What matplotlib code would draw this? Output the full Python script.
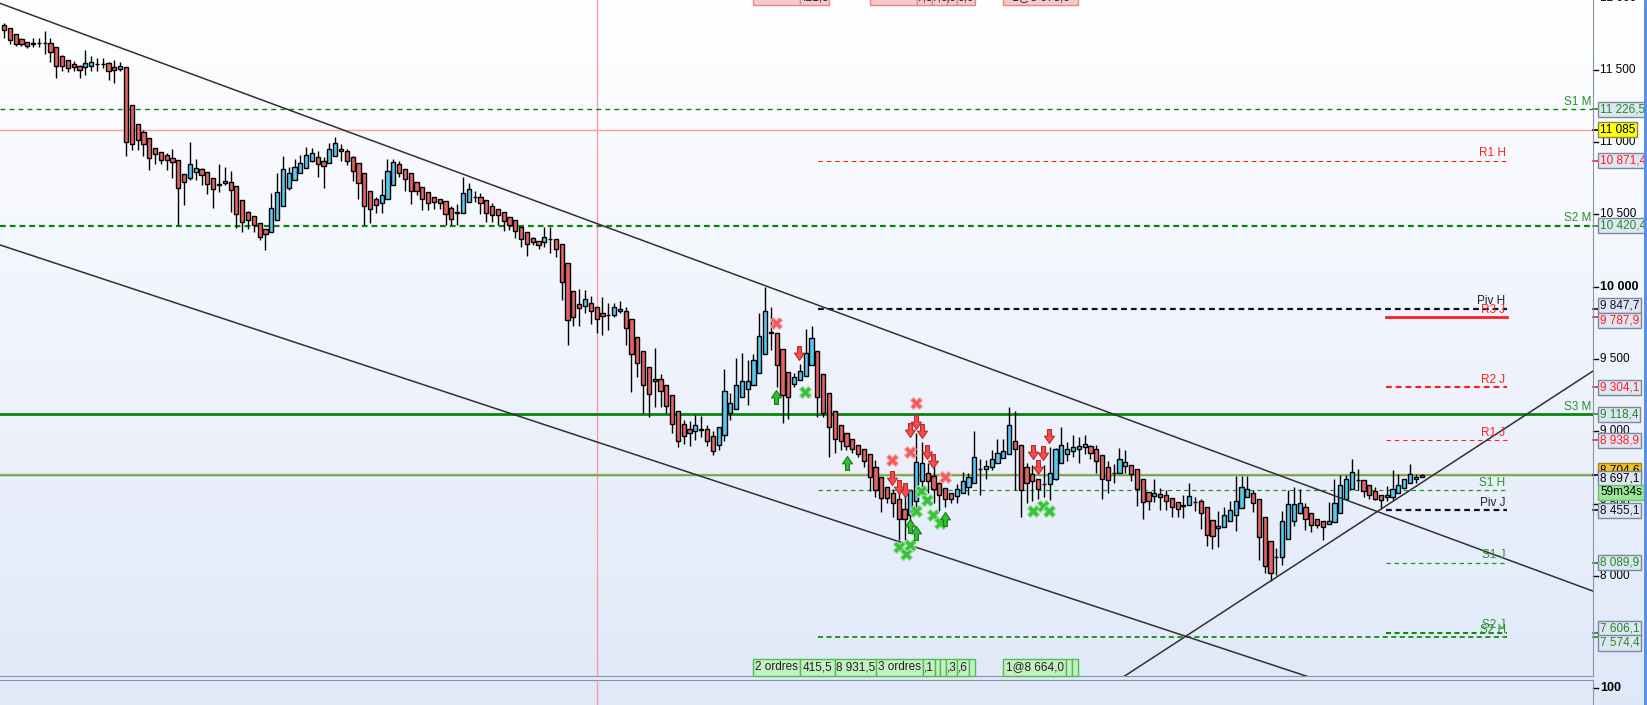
import numpy as np
import matplotlib
matplotlib.use('Agg')
import matplotlib.pyplot as plt
import matplotlib.transforms as mtransforms
from matplotlib.patches import Rectangle
from matplotlib.path import Path

plt.rcParams['font.family'] = ['Liberation Sans', 'DejaVu Sans']

W, H = 1647, 705

# ---- candles (hourly bars) ----
opens = [11810, 11790, 11748, 11714, 11692, 11685, 11683, 11685, 11685, 11657,
         11595, 11568, 11540, 11527, 11520, 11527, 11540, 11542, 11547, 11520,
         11506, 11520, 11257, 11125, 11070, 11029, 10960, 10932, 10911, 10890,
         10876, 10779, 10752, 10793, 10814, 10793, 10752, 10710, 10717, 10724,
         10697, 10600, 10517, 10489, 10441, 10399, 10378, 10461, 10558, 10683,
         10738, 10786, 10821, 10869, 10897, 10869, 10856, 10904, 10953, 10939,
         10897, 10856, 10786, 10662, 10607, 10579, 10607, 10703, 10849, 10814,
         10786, 10724, 10690, 10655, 10621, 10607, 10593, 10545, 10510, 10510,
         10586, 10621, 10621, 10600, 10558, 10538, 10517, 10482, 10461, 10413,
         10378, 10337, 10316, 10309, 10330, 10330, 10295, 10164, 9970, 9880,
         9866, 9887, 9860, 9818, 9805, 9805, 9832, 9832, 9777, 9652,
         9555, 9445, 9348, 9362, 9320, 9251, 9140, 9050, 9016, 9002,
         9016, 9016, 8968, 8905, 8975, 9127, 9154, 9237, 9293, 9320,
         9403, 9535, 9680, 9680, 9569, 9410, 9327, 9355, 9383, 9459,
         9555, 9396, 9265, 9140, 9043, 8988, 8947, 8905, 8878, 8843,
         8753, 8684, 8615, 8573, 8532, 8463, 8421, 8518, 8656, 8711,
         8691, 8642, 8608, 8573, 8553, 8573, 8615, 8642, 8739, 8739,
         8753, 8781, 8816, 8843, 8933, 8905, 8753, 8705, 8670, 8633,
         8635, 8670, 8781, 8843, 8864, 8878, 8892, 8899, 8878, 8836,
         8753, 8711, 8711, 8760, 8767, 8739, 8670, 8580, 8553, 8566,
         8560, 8539, 8511, 8491, 8491, 8511, 8518, 8477, 8387, 8331,
         8338, 8380, 8421, 8470, 8546, 8573, 8532, 8407, 8241, 8131,
         8131, 8255, 8380, 8435, 8477, 8435, 8394, 8380, 8359, 8373,
         8435, 8532, 8601, 8663, 8663, 8629, 8587, 8560, 8546, 8546,
         8573, 8608, 8642, 8670, 8684]
highs = [11824, 11790, 11748, 11721, 11692, 11721, 11721, 11769, 11721, 11657,
         11602, 11568, 11561, 11533, 11637, 11595, 11582, 11582, 11554, 11568,
         11554, 11520, 11257, 11125, 11084, 11029, 10960, 10932, 10925, 10953,
         10876, 10779, 11001, 10883, 10821, 10793, 10752, 10849, 10828, 10800,
         10697, 10600, 10524, 10489, 10441, 10399, 10648, 10786, 10904, 10828,
         10883, 10911, 10966, 10960, 10939, 10897, 10994, 11036, 10987, 10953,
         10904, 10856, 10786, 10662, 10621, 10745, 10883, 10883, 10869, 10814,
         10786, 10724, 10690, 10655, 10621, 10607, 10593, 10558, 10572, 10759,
         10717, 10662, 10648, 10600, 10579, 10538, 10517, 10482, 10461, 10413,
         10378, 10344, 10316, 10413, 10413, 10330, 10295, 10164, 9970, 9984,
         9977, 9936, 9860, 9929, 9887, 9887, 9901, 9860, 9777, 9652,
         9555, 9445, 9576, 9396, 9320, 9251, 9140, 9078, 9071, 9113,
         9106, 9043, 9002, 9030, 9431, 9265, 9507, 9542, 9493, 9535,
         9818, 9998, 9860, 9680, 9569, 9410, 9403, 9466, 9708, 9729,
         9555, 9396, 9265, 9140, 9043, 8988, 8947, 8905, 8878, 8843,
         8802, 8684, 8615, 8601, 8601, 8615, 8594, 8988, 8926, 8781,
         8781, 8649, 8608, 8573, 8635, 8718, 8711, 9002, 8809, 8802,
         8871, 8947, 8947, 9168, 9140, 8905, 8781, 8767, 8670, 8767,
         8892, 8885, 9030, 8926, 8975, 8961, 8975, 8905, 8905, 8836,
         8795, 8774, 8885, 8871, 8767, 8739, 8670, 8580, 8670, 8608,
         8594, 8539, 8511, 8560, 8642, 8546, 8532, 8477, 8387, 8449,
         8477, 8518, 8691, 8691, 8691, 8594, 8532, 8407, 8241, 8193,
         8449, 8594, 8615, 8601, 8504, 8435, 8394, 8380, 8511, 8670,
         8698, 8698, 8809, 8739, 8663, 8629, 8615, 8560, 8622, 8732,
         8705, 8670, 8774, 8705, 8704]
lows = [11720, 11678, 11664, 11664, 11650, 11657, 11657, 11609, 11554, 11443,
        11492, 11485, 11492, 11443, 11464, 11492, 11492, 11513, 11430, 11409,
        11492, 10904, 10946, 10946, 10904, 10807, 10849, 10849, 10807, 10752,
        10427, 10565, 10738, 10738, 10703, 10641, 10545, 10655, 10703, 10517,
        10406, 10378, 10399, 10378, 10323, 10254, 10378, 10461, 10558, 10669,
        10738, 10786, 10821, 10862, 10759, 10683, 10856, 10904, 10869, 10842,
        10731, 10607, 10427, 10441, 10510, 10510, 10607, 10703, 10759, 10662,
        10572, 10635, 10531, 10531, 10538, 10538, 10427, 10427, 10427, 10510,
        10586, 10586, 10503, 10447, 10447, 10427, 10385, 10392, 10337, 10275,
        10213, 10288, 10261, 10275, 10233, 10206, 9908, 9597, 9729, 9729,
        9818, 9742, 9680, 9666, 9701, 9791, 9818, 9597, 9272, 9376,
        9127, 9099, 9168, 9168, 9127, 8988, 8892, 8912, 8899, 8940,
        8961, 8899, 8836, 8871, 8933, 9078, 9154, 9237, 9182, 9320,
        9403, 9535, 9562, 9307, 9057, 9085, 9307, 9355, 9383, 9459,
        9099, 9099, 8823, 8850, 8871, 8871, 8850, 8823, 8753, 8587,
        8546, 8442, 8504, 8407, 8248, 8248, 8366, 8456, 8594, 8573,
        8504, 8449, 8477, 8504, 8504, 8573, 8560, 8642, 8560, 8670,
        8732, 8781, 8816, 8843, 8594, 8407, 8504, 8518, 8532, 8546,
        8525, 8663, 8781, 8795, 8823, 8781, 8843, 8809, 8711, 8532,
        8573, 8642, 8711, 8711, 8656, 8484, 8394, 8456, 8511, 8456,
        8456, 8407, 8407, 8400, 8491, 8449, 8325, 8207, 8186, 8200,
        8338, 8380, 8311, 8470, 8546, 8442, 8110, 8020, 7965, 8007,
        8076, 8255, 8345, 8428, 8318, 8304, 8331, 8248, 8359, 8373,
        8435, 8532, 8601, 8594, 8546, 8532, 8525, 8463, 8518, 8525,
        8573, 8608, 8642, 8642, 8684]
closes = [11776, 11706, 11678, 11678, 11664, 11680, 11685, 11683, 11623, 11527,
          11527, 11513, 11520, 11499, 11547, 11554, 11542, 11540, 11492, 11499,
          11527, 11001, 10987, 11015, 10987, 10890, 10918, 10876, 10876, 10862,
          10683, 10724, 10849, 10821, 10773, 10710, 10676, 10707, 10731, 10669,
          10503, 10447, 10461, 10427, 10344, 10364, 10545, 10655, 10814, 10786,
          10828, 10856, 10911, 10925, 10849, 10835, 10953, 10994, 10939, 10869,
          10800, 10717, 10558, 10538, 10565, 10635, 10800, 10862, 10786, 10745,
          10662, 10662, 10607, 10579, 10586, 10579, 10503, 10468, 10514, 10648,
          10676, 10618, 10579, 10510, 10496, 10496, 10454, 10427, 10385, 10330,
          10295, 10309, 10288, 10344, 10328, 10261, 10033, 9770, 9791, 9853,
          9915, 9832, 9777, 9798, 9803, 9860, 9846, 9715, 9535, 9472,
          9320, 9258, 9362, 9279, 9175, 9050, 8933, 8968, 8988, 9043,
          9012, 8933, 8864, 9030, 9279, 9196, 9320, 9348, 9348, 9493,
          9659, 9832, 9685, 9459, 9251, 9237, 9376, 9417, 9542, 9645,
          9237, 9127, 9030, 8947, 8933, 8899, 8878, 8843, 8795, 8684,
          8594, 8539, 8539, 8504, 8394, 8394, 8594, 8788, 8781, 8656,
          8601, 8560, 8532, 8532, 8601, 8656, 8684, 8823, 8742, 8760,
          8809, 8850, 8864, 9043, 8878, 8594, 8642, 8656, 8601, 8637,
          8711, 8878, 8905, 8878, 8892, 8899, 8912, 8850, 8795, 8670,
          8663, 8715, 8809, 8788, 8705, 8601, 8511, 8518, 8573, 8546,
          8518, 8477, 8463, 8487, 8553, 8508, 8435, 8283, 8276, 8345,
          8421, 8456, 8518, 8615, 8601, 8504, 8269, 8069, 8020, 8134,
          8380, 8497, 8497, 8504, 8394, 8352, 8352, 8338, 8380, 8504,
          8629, 8670, 8718, 8666, 8587, 8560, 8532, 8525, 8560, 8601,
          8629, 8670, 8705, 8684, 8697]

# ---- trend lines: (bar index, price) anchor pairs ----
upper_line = ([-0.69, 273.5], [11960, 7895])
lower_line = ([-0.69, 273.5], [10289, 6653])
rising_line = ([192.9, 273.5], [7308, 9417])

# ---- pivot levels ----
level_names = ['S1 M', 'R1 H', 'S2 M', 'Piv H', 'R3 J', 'R2 J', 'S3 M',
               'R1 J', 'S1 H', 'Piv J', 'S1 J', 'S2 J', 'S2 H']
level_values = [11226.5, 10871.4, 10420.4, 9847.7, 9787.9, 9304.1, 9118.4,
                8938.9, 8592.0, 8455.1, 8089.9, 7606.1, 7574.4]
level_tags = ['11 226,5', '10 871,4', '10 420,4', '9 847,7', '9 787,9', '9 304,1',
              '9 118,4', '8 938,9', None, '8 455,1', '8 089,9', '7 606,1', '7 574,4']

last_price = 8697.1
ask_price = 8704.6
ref_price = 11085
ref_bar = 102

axis_ticks = [11500, 11000, 10500, 10000, 9500, 9000, 8500, 8000]

# ---- signal markers ----
red_x_idx = [132.9, 152.8, 157.0, 155.9, 162.0]
red_x_val = [9749, 8802, 9196, 8857, 8684]
red_dn_idx = [136.8, 157.0, 155.9, 158.0, 158.9, 159.9, 152.8, 154.0, 155.1,
              179.9, 177.1, 178.8, 178.0]
red_dn_val = [9542, 9064, 9009, 9002, 8857, 8795, 8677, 8615, 8594,
              8968, 8857, 8850, 8753]
green_x_idx = [137.9, 157.8, 158.9, 157.0, 159.9, 161.1, 177.1, 178.8, 179.9,
               154.0, 155.3, 155.9]
green_x_val = [9272, 8587, 8525, 8449, 8421, 8366, 8449, 8484, 8449,
               8200, 8152, 8214]
green_up_idx = [132.9, 145.1, 162.0, 155.9, 157.0]
green_up_val = [9237, 8781, 8394, 8345, 8297]

# order tags (top ones are cut by the frame)
top_tags = [(753, 800, '2 ordres'), (800, 829, '421,5'),
            (870, 917, '2 ordres'), (917, 932, '7,5'), (932, 947, '7,0'),
            (947, 957, ',0'), (957, 975, '0,0'), (1003, 1078, '1@8 673,0')]
bottom_tags = [(753, 800, '2 ordres'), (800, 835, '415,5'), (835, 876, '8 931,5'),
               (876, 923, '3 ordres'), (923, 935, ',1'), (935, 940, ''),
               (940, 946, ''), (946, 957, ',3'), (957, 969, ',6'), (969, 975, ''),
               (1003, 1066, '1@8 664,0'), (1066, 1072, ''), (1072, 1078, '')]

# ================= drawing =================
fig = plt.figure(figsize=(W / 100, H / 100), dpi=100)

bg = fig.add_axes([0, 0, 1, 1], zorder=-10)
g = np.linspace(0, 1, 256)[:, None, None]
top_c = np.array([1.0, 1.0, 1.0])
bot_c = np.array([0.878, 0.910, 0.976])
bg.imshow(top_c + (bot_c - top_c) * g * np.ones((1, 2, 1)), aspect='auto',
          extent=[0, 1, 0, 1])
bg.axis('off')

plot_right = 1593
ax = fig.add_axes([0, 29 / H, plot_right / W, 676 / H])
ax.set_facecolor('none')
ax.set_xlim(-0.69, 273.5)
ax.set_ylim(7308, 11983)
ax.set_xticks([])
ax.set_yticks([])
for s in ['top', 'left']:
    ax.spines[s].set_visible(False)
ax.spines['right'].set_color('#8a94a6')
ax.spines['bottom'].set_color('#8a94a6')

ppx = (11983 - 7308) / 676.0  # price per pixel

idx = np.arange(len(opens))
o = np.array(opens, float)
hi = np.array(highs, float)
lo = np.array(lows, float)
c = np.array(closes, float)
up = c >= o
ax.vlines(idx, lo, hi, color='black', lw=1, zorder=3)
ax.bar(idx, np.maximum(np.abs(c - o), ppx * 0.3), bottom=np.minimum(o, c), width=0.72,
       color=np.where(up, '#5ac8f0', '#e46464'), edgecolor='black', linewidth=1, zorder=4)

for xs, ys in [upper_line, lower_line, rising_line]:
    ax.plot(xs, ys, color='#303030', lw=1.1, zorder=5)

# reference lines
ax.axhline(ref_price, color='#f4a0a0', lw=1, zorder=2)
ax.axvline(ref_bar, color='#f4a0a0', lw=1, zorder=2)
ax.axhline(ask_price, color='#f08a80', lw=1, zorder=2)
ax.axhline(last_price, color='#34c034', lw=1, zorder=2)

span = {'M': (-0.69, 273.5), 'H': (140.1, 258.7), 'J': (237.9, 258.7)}
green, red, black = '#0a850a', '#ff1e1e', '#101020'
style = {
    'S1 M': (green, 1.0, (0, (3.5, 3))), 'S2 M': (green, 1.6, (0, (2.6, 1.8))),
    'S3 M': (green, 2.0, '-'), 'R1 H': (red, 0.8, (0, (4, 3.5))),
    'Piv H': (black, 1.6, (0, (2.6, 1.8))), 'R3 J': (red, 2.0, '-'),
    'R2 J': (red, 1.6, (0, (2.6, 1.8))), 'R1 J': (red, 0.8, (0, (4, 3.5))),
    'S1 H': ('#1a9a1a', 0.9, (0, (3.5, 3))), 'Piv J': (black, 1.6, (0, (2.6, 1.8))),
    'S1 J': ('#1a9a1a', 0.9, (0, (3.5, 3))), 'S2 J': (green, 1.4, (0, (2.6, 1.8))),
    'S2 H': ('#1a9a1a', 1.4, (0, (2.6, 1.8))),
}
for name, val in zip(level_names, level_values):
    col, lw, ls = style[name]
    x0, x1 = span[name.split()[1]]
    ax.plot([x0, x1], [val, val], color=col, lw=lw, ls=ls, zorder=2)
    tcol = red if name.startswith('R') else ('#1e1e3c' if name.startswith('Piv') else '#2a922a')
    ax.text(x1 - 0.25, val + ppx * 1.5, name, ha='right', va='bottom', color=tcol,
            fontsize=8.5, zorder=6)

# markers
arrow_dn = Path([(-0.28, 1.0), (0.28, 1.0), (0.28, 0.05), (0.72, 0.05), (0.0, -1.0),
                 (-0.72, 0.05), (-0.28, 0.05), (-0.28, 1.0)], closed=True)
arrow_up = Path([(x, -y) for x, y in arrow_dn.vertices], closed=True)
ax.plot(red_x_idx, red_x_val, 'X', ms=9, color='#f25c5c', mec='#f7a8a8', mew=0.8, zorder=7, ls='none')
ax.plot(red_dn_idx, red_dn_val, marker=arrow_dn, ms=10, color='#f25050', mec='#c02828', mew=0.8, zorder=7, ls='none')
ax.plot(green_x_idx, green_x_val, 'X', ms=9, color='#38c038', mec='#90e090', mew=0.8, zorder=7, ls='none')
ax.plot(green_up_idx, green_up_val, marker=arrow_up, ms=10, color='#30c030', mec='#108010', mew=0.8, zorder=7, ls='none')

# ---- right price scale ----
tr = mtransforms.blended_transform_factory(fig.transFigure, ax.transData)
for v in axis_ticks + [12000]:
    lab = f"{v // 1000} {v % 1000:03d}"
    bold = v == 10000
    ax.plot([plot_right / W, 1598 / W], [v, v], color='black', lw=1, transform=tr, clip_on=False)
    ax.text(1600 / W, v, lab, transform=tr, ha='left', va='center', fontsize=9 if bold else 8.5,
            fontweight='bold' if bold else 'normal', color='black', clip_on=False, zorder=8)

def tag(val, text, tcol, fc, ec='#7a889c', nudge=0.0, tick=None, z=10):
    yc = val - nudge * ppx
    if tick is not None:
        ax.plot([plot_right / W, 1598 / W], [val, val], color=tick, lw=1.2, transform=tr, clip_on=False)
    ax.text(1600 / W, yc, text, transform=tr, ha='left', va='center', fontsize=8.5, color=tcol,
            clip_on=False, zorder=z,
            bbox=dict(boxstyle='square,pad=0.13', fc=fc, ec=ec, lw=1))

nudges = {'Piv H': -3, 'R3 J': 3, 'S2 J': -4, 'S2 H': 5.5}
for name, val, t in zip(level_names, level_values, level_tags):
    if t is None:
        continue
    tcol = red if name.startswith('R') else ('#101020' if name.startswith('Piv') else '#1e8c1e')
    tag(val, t, tcol, '#dfe6f3', nudge=nudges.get(name, 0.0), tick=tcol)
tag(ref_price, '11 085', 'black', '#ffff10', ec='#8a8a40', tick='black')
tag(ask_price, '8 704,6', 'black', '#f7c21c', ec='#a08020', nudge=-4, z=9)
tag(last_price, '8 697,1', 'black', '#dfe6f3', nudge=3, tick='black', z=11)
tag(last_price, '59m34s', 'black', '#98e898', ec='#70c070', nudge=17, z=12)

# blue strip at far right
fig.patches.append(Rectangle((1644 / W, 0), 3 / W, 1, transform=fig.transFigure,
                             fc='#5b8fe6', ec='none', zorder=20))

# ---- lower panel ----
ax2 = fig.add_axes([0, 0, plot_right / W, 25 / H])
ax2.set_facecolor('#e1e8f8')
ax2.set_xlim(-0.69, 273.5)
ax2.set_ylim(0, 1)
ax2.set_xticks([])
ax2.set_yticks([])
for s in ['bottom', 'left']:
    ax2.spines[s].set_visible(False)
ax2.spines['top'].set_color('#8a94a6')
ax2.spines['right'].set_color('#8a94a6')
ax2.axvline(ref_bar, color='#f4a0a0', lw=1)
tr2 = mtransforms.blended_transform_factory(fig.transFigure, ax2.transAxes)
ax2.plot([plot_right / W, 1598 / W], [0.68, 0.68], color='black', lw=1, transform=tr2, clip_on=False)
ax2.text(1600 / W, 0.68, '100', transform=tr2, ha='left', va='center', fontsize=9,
         fontweight='bold', clip_on=False)

# ---- order tags ----
def px_box(x0, x1, y0, y1, text, fc, ec):
    fig.patches.append(Rectangle((x0 / W, 1 - y1 / H), (x1 - x0) / W, (y1 - y0) / H,
                                 transform=fig.transFigure, fc=fc, ec=ec, lw=1, zorder=15))
    if text:
        fig.text((x0 + x1) / 2 / W, 1 - (y0 + y1) / 2 / H, text, ha='center', va='center',
                 fontsize=8.5, color='#202020', zorder=16)

for x0, x1, t in top_tags:
    px_box(x0, x1, -10, 5, t, '#f8c8c8', '#e08888')
for x0, x1, t in bottom_tags:
    px_box(x0, x1, 659, 676, t, '#c4f0c4', '#4cc04c')

fig.savefig('out.png', dpi=100)
